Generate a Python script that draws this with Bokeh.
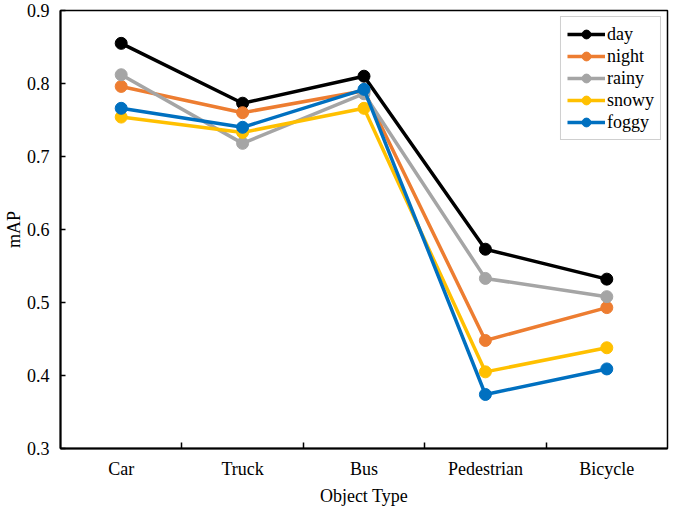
from bokeh.plotting import figure
from bokeh.models import FixedTicker, Range1d
from bokeh.embed import file_html
from bokeh.resources import INLINE

categories = ["Car", "Truck", "Bus", "Pedestrian", "Bicycle"]
day = [0.855, 0.773, 0.810, 0.573, 0.532]
night = [0.796, 0.760, 0.790, 0.448, 0.493]
rainy = [0.812, 0.718, 0.786, 0.533, 0.508]
snowy = [0.754, 0.733, 0.766, 0.405, 0.438]
foggy = [0.766, 0.740, 0.792, 0.374, 0.409]
y_ticks = [0.3, 0.4, 0.5, 0.6, 0.7, 0.8, 0.9]

series = [("day", day, "#000000"), ("night", night, "#ED7D31"),
          ("rainy", rainy, "#A5A5A5"), ("snowy", snowy, "#FFC000"),
          ("foggy", foggy, "#0070C0")]

FONT = "Liberation Serif"
n = len(categories)
xs = [i + 0.5 for i in range(n)]

p = figure(width=669, height=508, output_backend="svg", toolbar_location=None,
           x_range=Range1d(0, n), y_range=Range1d(y_ticks[0], y_ticks[-1]),
           min_border_top=10, min_border_right=2, min_border_left=0,
           min_border_bottom=0)

for name, vals, col in series:
    p.line(xs, vals, line_color=col, line_width=3.5, legend_label=name)
    p.scatter(xs, vals, size=12, fill_color=col, line_color=col, legend_label=name)

p.xgrid.visible = False
p.ygrid.visible = False
p.outline_line_color = "black"
p.outline_line_width = 1.5
p.background_fill_color = "white"
p.border_fill_color = "white"

xa = p.xaxis[0]
xa.ticker = FixedTicker(ticks=xs, minor_ticks=list(range(1, n)))
xa.major_label_overrides = {x: c for x, c in zip(xs, categories)}
xa.major_tick_line_color = None
xa.minor_tick_in = 6
xa.minor_tick_out = 0
xa.minor_tick_line_width = 1.5
xa.minor_tick_line_color = "black"
xa.axis_line_width = 2
xa.axis_label = "Object Type"
xa.axis_label_text_font = FONT
xa.axis_label_text_font_style = "normal"
xa.axis_label_text_font_size = "18px"
xa.axis_label_text_color = "black"
xa.axis_label_text_line_height = 0.9
xa.axis_label_standoff = 4
xa.major_label_text_font = FONT
xa.major_label_text_font_size = "18px"
xa.major_label_standoff = 4
xa.major_label_text_color = "black"

ya = p.yaxis[0]
ya.ticker = FixedTicker(ticks=y_ticks, minor_ticks=[])
ya.major_label_overrides = {t: f"{t:.1f}" for t in y_ticks}
ya.major_tick_in = 5
ya.major_tick_out = 0
ya.major_tick_line_width = 1.5
ya.axis_line_width = 2
ya.axis_label = "mAP"
ya.axis_label_text_font = FONT
ya.axis_label_text_font_style = "normal"
ya.axis_label_text_font_size = "18px"
ya.axis_label_text_color = "black"
ya.axis_label_standoff = 0
ya.major_label_text_font = FONT
ya.major_label_text_font_size = "18px"
ya.major_label_standoff = 11
ya.major_label_text_color = "black"

lg = p.legend[0]
lg.location = "top_right"
lg.margin = 6
lg.border_line_color = "#A0A0A0"
lg.border_line_width = 1
lg.label_text_font = FONT
lg.label_text_font_style = "normal"
lg.label_text_font_size = "18px"
lg.label_text_color = "black"
lg.glyph_width = 38
lg.glyph_height = 22
lg.label_height = 22
lg.spacing = 0
lg.padding = 6
lg.label_standoff = 2

open("out.html", "w").write(file_html(p, INLINE))
